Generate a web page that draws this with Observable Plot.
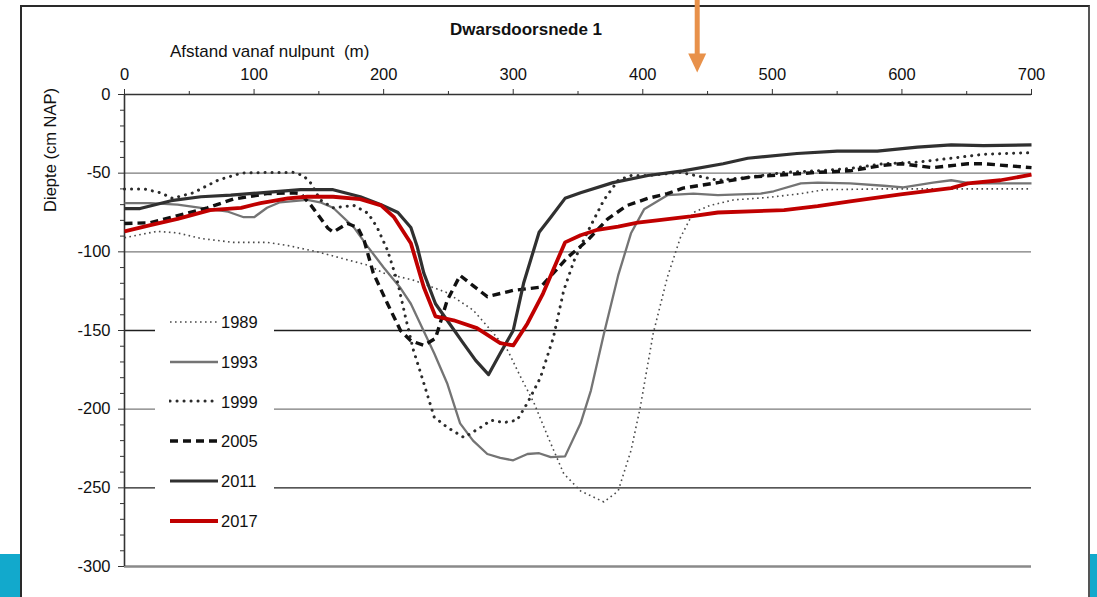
<!DOCTYPE html>
<html>
<head>
<meta charset="utf-8">
<script src="https://cdn.jsdelivr.net/npm/d3@7"></script>
<script src="https://cdn.jsdelivr.net/npm/@observablehq/plot@0.6"></script>
<style>
  html, body { margin: 0; padding: 0; background: #fff; }
  #wrap { position: relative; width: 1097px; height: 597px; overflow: hidden; background: #fff;
          font-family: "Liberation Sans", Arial, sans-serif; }
  #frame { position: absolute; left: 20px; top: 5px; width: 1066px; height: 800px;
           border-left: 2px solid #2a2a2a; border-top: 2px solid #2a2a2a; border-right: 2px solid #555; }
  .teal { position: absolute; background: #12a9cc; }
  #chart { position: absolute; left: 0; top: 0; }
  #overlay { position: absolute; left: 0; top: 0; pointer-events: none; }
  #legend { position: absolute; left: 155px; top: 302px; width: 119px; height: 239px; background: #fff; }
  .row { position: relative; height: 39.8px; }
  .row svg { position: absolute; left: 14px; top: 14.9px; }
  .row span { position: absolute; left: 66px; top: 10px; font-size: 16.5px; color: #111; line-height: 20px; }
</style>
</head>
<body>
<div id="wrap">
  <div id="frame"></div>
  <div class="teal" style="left:0;top:554px;width:20px;height:43px"></div>
  <div class="teal" style="left:1090px;top:554px;width:7px;height:43px"></div>
  <div id="chart"></div>
  <svg id="overlay" width="1097" height="597">
    <text x="526" y="35" text-anchor="middle" font-weight="bold" font-size="17" fill="#111"
          font-family="Liberation Sans, Arial, sans-serif">Dwarsdoorsnede 1</text>
    <text x="170" y="57" font-size="17" fill="#111" style="white-space:pre"
          font-family="Liberation Sans, Arial, sans-serif">Afstand vanaf nulpunt  (m)</text>
    <text transform="translate(56,150) rotate(-90)" text-anchor="middle" font-size="16.5" fill="#111"
          font-family="Liberation Sans, Arial, sans-serif">Diepte (cm NAP)</text>
  </svg>
  <div id="legend"></div>
</div>
<script>
// ---- data ----
const x1989 = [0,25,41,59,84,110,126,149,174,188,200,223,249,269,285,296,306,316,327,339,352,370,381,391,398,408,419,429,439,452,470,496,522,540,586,700];
const y1989 = [-91,-87,-88,-91.5,-94,-94,-96,-100,-105.5,-108.5,-113.5,-118,-126,-137,-152,-163,-180,-196,-218,-241,-252,-259,-252,-226,-199,-152,-116,-91,-75,-70.5,-67,-65.5,-63,-60.5,-60,-60];

const x1993 = [0,20,41,59,80,92,100,110,120,141,151,161,177,188,200,213,221,239,249,259,269,280,290,300,311,320,329,340,352,360,370,381,391,401,419,439,458,491,501,522,535,560,586,601,624,638,653,700];
const y1993 = [-69,-69,-70,-72,-74.5,-78,-78,-72,-68.5,-67,-68.5,-72,-84.5,-97,-110,-123,-133,-164.5,-183.5,-209,-220,-228.5,-231,-232.5,-228.5,-228,-230.5,-230,-209,-188,-152,-115,-88,-73,-64,-63,-64,-63,-61.5,-56.5,-56,-56.5,-58,-59,-56,-54.5,-56.5,-56.5];

const x1999 = [0,15,28,37,53,72,90,110,130,138,144,151,161,177,188,195,203,211,217,223,231,239,249,262,275,283,293,303,311,321,331,339,347,357,370,381,391,404,429,458,483,509,535,560,586,612,638,663,700];
const y1999 = [-60,-60,-62.5,-66,-62.5,-54.5,-50,-49.5,-49.5,-51.5,-56.5,-67,-72,-70.5,-75.5,-84.5,-99,-120,-142,-162.5,-183.5,-205,-211.5,-218,-211.5,-207,-208.5,-207,-196,-180,-154.5,-124.5,-105.5,-88,-67,-54.5,-51.5,-51.5,-49.5,-54.5,-52.5,-49.5,-48.5,-47,-44,-43,-40.5,-38,-37];

const x2005 = [0,20,41,64,84,110,130,136,144,157,161,172,180,185,192,203,213,221,231,240,249,259,269,280,300,321,331,342,357,373,388,404,419,431,458,483,509,535,560,586,599,624,651,663,700];
const y2005 = [-82,-81.5,-77,-72,-66.5,-63,-62.5,-63,-70.5,-85,-87.5,-82,-84.5,-93,-113.5,-133,-150,-156.5,-159.5,-155,-131,-115,-121.5,-128.5,-124.5,-122.5,-113.5,-103.5,-93,-79,-70.5,-66,-63,-59.5,-56,-52.5,-51,-49.5,-48.5,-45,-44,-46.5,-44,-44,-46.5];

const x2011 = [0,12,36,59,82,105,136,161,182,198,211,221,226,231,240,249,261,271,281,290,300,308,320,329,340,352,377,404,431,462,481,519,550,581,612,638,663,700];
const y2011 = [-72.5,-72.5,-67.5,-65,-64,-62.5,-60.5,-60.5,-65,-70,-75,-84.5,-97,-113.5,-133,-143.5,-157.5,-169,-178,-164.5,-150,-120,-87.5,-78,-66,-62.5,-56,-51.5,-48.5,-44,-40.5,-37.5,-36,-36,-33.5,-32,-32.5,-32];

const x2017 = [0,20,41,66,90,105,126,141,161,182,198,208,221,231,240,254,272,290,300,311,323,340,352,365,381,396,411,437,458,509,535,560,599,638,651,676,700];
const y2017 = [-87,-83,-79,-73.5,-72,-69,-66,-65,-65,-66.5,-70.5,-78,-94.5,-122.5,-141,-143.5,-148.5,-158,-159.5,-145.5,-126.5,-94,-89.5,-86,-84,-81.5,-80,-77.5,-75,-73.5,-71,-68,-63.5,-59.5,-56.5,-54.5,-51];

const years = ["1989","1993","1999","2005","2011","2017"];
const xTicks = [0,100,200,300,400,500,600,700];
const xMinor = [50,150,250,350,450,550,650];
const yTicks = [0,-50,-100,-150,-200,-250,-300];
const yMinor = d3.range(-300, 1, 10).filter(v => v % 50 !== 0);
const gridDark = [-150,-250];
const gridMid = [-50,-100,-200];
const arrowX = [442];

// ---- styles ----
const styles = {
  "1989": {stroke:"#4a4a4a", strokeWidth:1.6, strokeDasharray:"1.6,3.4", strokeLinecap:"butt"},
  "1993": {stroke:"#747474", strokeWidth:2.3, strokeDasharray:null, strokeLinecap:"butt"},
  "1999": {stroke:"#2b2b2b", strokeWidth:3, strokeDasharray:"0.1,6.9", strokeLinecap:"round"},
  "2005": {stroke:"#111111", strokeWidth:3.4, strokeDasharray:"8,5", strokeLinecap:"butt"},
  "2011": {stroke:"#303030", strokeWidth:3.2, strokeDasharray:null, strokeLinecap:"butt"},
  "2017": {stroke:"#c00000", strokeWidth:3.8, strokeDasharray:null, strokeLinecap:"butt"}
};
const seriesXY = {
  "1989": [x1989, y1989], "1993": [x1993, y1993], "1999": [x1999, y1999],
  "2005": [x2005, y2005], "2011": [x2011, y2011], "2017": [x2017, y2017]
};

const downTriangle = {
  draw(context) {
    context.moveTo(-9, -19);
    context.lineTo(9, -19);
    context.lineTo(0, 0);
    context.closePath();
  }
};

const lineMarks = years.map(yr => {
  const [xs, ys] = seriesXY[yr];
  const data = xs.map((x, i) => ({x, y: ys[i]}));
  const s = styles[yr];
  const opts = {x: "x", y: "y", stroke: s.stroke, strokeWidth: s.strokeWidth, strokeLinecap: s.strokeLinecap, strokeLinejoin: "round"};
  if (s.strokeDasharray) opts.strokeDasharray = s.strokeDasharray;
  return Plot.line(data, opts);
});

const chart = Plot.plot({
  width: 1097,
  height: 597,
  marginLeft: 124,
  marginRight: 66,
  marginTop: 94,
  marginBottom: 31,
  style: {fontFamily: "'Liberation Sans', Arial, sans-serif", fontSize: "16.5px", background: "transparent", color: "#111"},
  x: {domain: [0, 700]},
  y: {domain: [-300, 0]},
  marks: [
    Plot.ruleY(gridMid, {stroke: "#7a7a7a", strokeWidth: 1.3}),
    Plot.ruleY(gridDark, {stroke: "#1e1e1e", strokeWidth: 1.3}),
    Plot.ruleY([-300], {stroke: "#8a8a8a", strokeWidth: 2.4}),
    Plot.axisX({anchor: "top", ticks: xTicks, tickSize: 6, tickPadding: 9, label: null, tickFormat: d => String(d), stroke: "#333"}),
    Plot.axisX({anchor: "top", ticks: xMinor, tickSize: 4, text: null, label: null, stroke: "#333"}),
    Plot.axisY({anchor: "left", ticks: yTicks, tickSize: 6, tickPadding: 8, label: null, tickFormat: d => String(d), stroke: "#333"}),
    Plot.axisY({anchor: "left", ticks: yMinor, tickSize: 4, text: null, label: null, stroke: "#333"}),
    Plot.ruleY([0], {stroke: "#333", strokeWidth: 1.6}),
    Plot.ruleX([0], {stroke: "#333", strokeWidth: 1.6}),
    ...lineMarks,
    Plot.ruleX(arrowX, {x: d => d, y1: 61, y2: 24, stroke: "#e8914a", strokeWidth: 5}),
    Plot.dot(arrowX, {x: d => d, y: 14, symbol: downTriangle, fill: "#e8914a", stroke: "none"})
  ]
});
document.getElementById("chart").appendChild(chart);

// ---- legend ----
const legend = document.getElementById("legend");
years.forEach(yr => {
  const s = styles[yr];
  const row = document.createElement("div");
  row.className = "row";
  const ns = "http://www.w3.org/2000/svg";
  const svg = document.createElementNS(ns, "svg");
  svg.setAttribute("width", "50");
  svg.setAttribute("height", "10");
  const ln = document.createElementNS(ns, "line");
  ln.setAttribute("x1", "1"); ln.setAttribute("x2", "49");
  ln.setAttribute("y1", "5"); ln.setAttribute("y2", "5");
  ln.setAttribute("stroke", s.stroke);
  ln.setAttribute("stroke-width", s.strokeWidth);
  ln.setAttribute("stroke-linecap", s.strokeLinecap);
  if (s.strokeDasharray) ln.setAttribute("stroke-dasharray", s.strokeDasharray);
  svg.appendChild(ln);
  const span = document.createElement("span");
  span.textContent = yr;
  row.appendChild(svg);
  row.appendChild(span);
  legend.appendChild(row);
});
</script>
</body>
</html>
